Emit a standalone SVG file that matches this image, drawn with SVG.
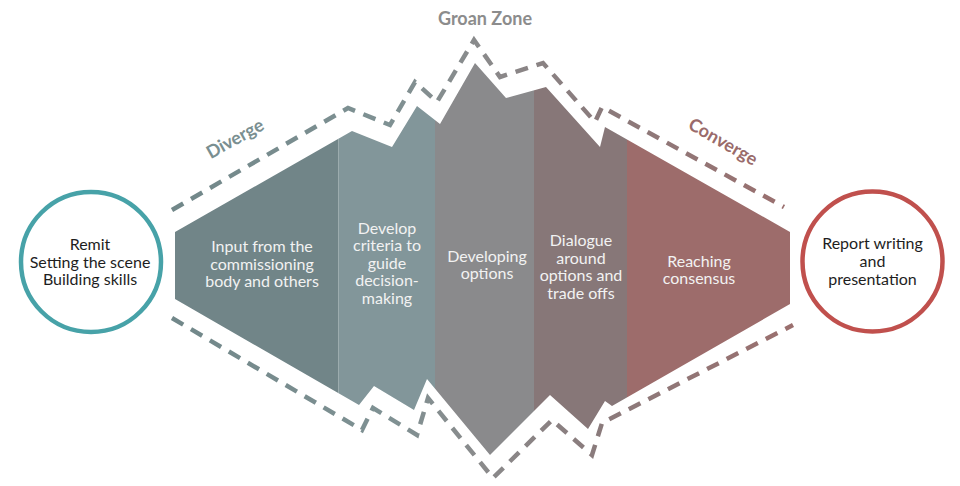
<svg xmlns="http://www.w3.org/2000/svg" width="960" height="486" viewBox="0 0 960 486">
<defs>
<style>
.lbl{font-family:Lato,"Open Sans","Liberation Sans",sans-serif;font-size:16px;fill:#f2f2f2;text-anchor:middle}
.dark{font-family:Lato,"Open Sans","Liberation Sans",sans-serif;font-size:16px;fill:#1e1e1e;text-anchor:middle}
.head{font-family:Lato,"Open Sans","Liberation Sans",sans-serif;font-size:18px;font-weight:bold;text-anchor:middle}
.dash{fill:none;stroke:url(#dg);stroke-width:4.5;stroke-dasharray:13 9;stroke-linejoin:miter}
</style>
<linearGradient id="dg" gradientUnits="userSpaceOnUse" x1="170" y1="0" x2="795" y2="0">
<stop offset="0" stop-color="#718789"/>
<stop offset="0.35" stop-color="#7f9193"/>
<stop offset="0.5" stop-color="#8a8a8b"/>
<stop offset="0.68" stop-color="#8a7b7c"/>
<stop offset="1" stop-color="#9b6f6e"/>
</linearGradient>
<clipPath id="outline">
<path d="M175,232 L352,131 L392,147 L417,106 L440,124 L475,63 L506,98 L546,87 L600,147 L605,127 L790,232 L790,304 L612,406 L605,401 L588,429 L550,395 L490,455 L427,379 L414,410 L374,386 L359,405 L175,299 Z"/>
</clipPath>
</defs>
<rect width="960" height="486" fill="#ffffff"/>

<g id="connectors">
<path class="dash" d="M172,210 L348,108 L390,125 L415,82 L437,102 L474,40 L500,77 L543,63 L595,122 L602,107 L784,207"/>
<path class="dash" d="M172,318 L362,430 L373,408 L417,435 L428,398 L493,478 L552,420 L592,455 L602,423 L793,325"/>
</g>

<g clip-path="url(#outline)">
<g id="stage-input">
<rect x="170" y="50" width="168.5" height="420" fill="#718588"/>
<text class="lbl" x="262" y="252">Input from the</text>
<text class="lbl" x="262" y="269.5">commissioning</text>
<text class="lbl" x="262" y="287">body and others</text>
</g>
<g id="stage-criteria">
<rect x="338.5" y="50" width="96.5" height="420" fill="#82969a"/>
<text class="lbl" x="387" y="233.5">Develop</text>
<text class="lbl" x="387" y="251">criteria to</text>
<text class="lbl" x="387" y="268.5">guide</text>
<text class="lbl" x="387" y="286">decision-</text>
<text class="lbl" x="387" y="303.5">making</text>
</g>
<g id="stage-options">
<rect x="435" y="50" width="99" height="420" fill="#8a8a8c"/>
<text class="lbl" x="487" y="261.5">Developing</text>
<text class="lbl" x="487" y="279">options</text>
</g>
<g id="stage-dialogue">
<rect x="534" y="50" width="93" height="420" fill="#877778"/>
<text class="lbl" x="581" y="246">Dialogue</text>
<text class="lbl" x="581" y="263.5">around</text>
<text class="lbl" x="581" y="281">options and</text>
<text class="lbl" x="581" y="298.5">trade offs</text>
</g>
<g id="stage-consensus">
<rect x="627" y="50" width="170" height="420" fill="#9d6c6b"/>
<text class="lbl" x="699" y="266.5">Reaching</text>
<text class="lbl" x="699" y="284">consensus</text>
</g>
</g>

<g id="start">
<circle cx="91" cy="262" r="70" fill="#ffffff" stroke="#47a2a8" stroke-width="4.5"/>
<text class="dark" x="90" y="250">Remit</text>
<text class="dark" x="90" y="267.5">Setting the scene</text>
<text class="dark" x="90" y="285">Building skills</text>
</g>
<g id="end">
<circle cx="872.5" cy="261.5" r="70" fill="#ffffff" stroke="#c0504d" stroke-width="4.5"/>
<text class="dark" x="872.5" y="249">Report writing</text>
<text class="dark" x="872.5" y="267">and</text>
<text class="dark" x="872.5" y="285">presentation</text>
</g>

<g id="labels">
<text class="head" x="485" y="25" fill="#8c8c8c" font-size="17">Groan Zone</text>
<text class="head" transform="translate(238,144) rotate(-29)" fill="#7a8f91">Diverge</text>
<text class="head" transform="translate(720,147) rotate(30)" fill="#9a6b6b">Converge</text>
</g>
</svg>
